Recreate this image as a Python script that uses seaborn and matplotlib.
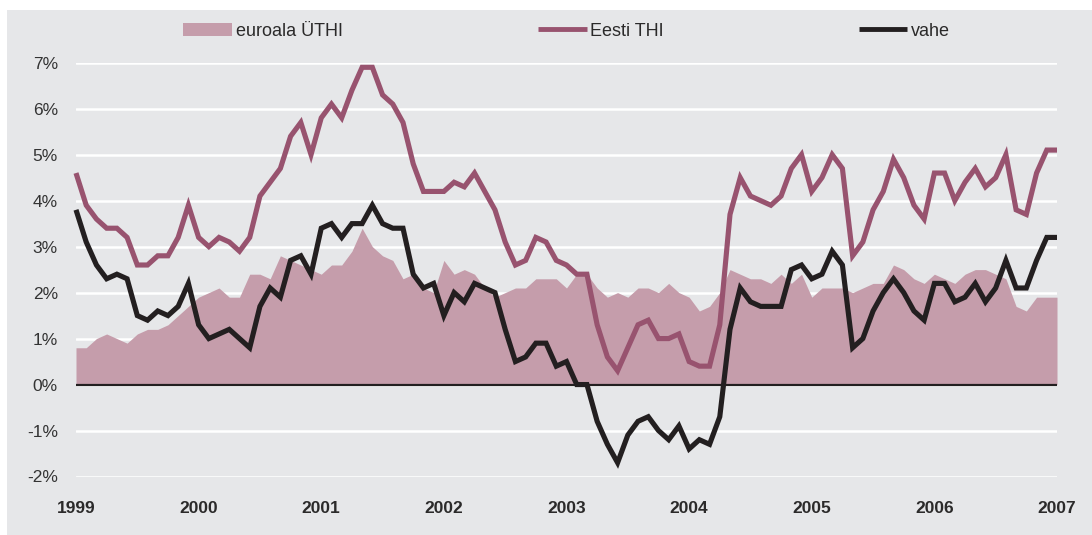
import numpy as np
import pandas as pd
import matplotlib
matplotlib.use("Agg")
import matplotlib.pyplot as plt
import seaborn as sns
from matplotlib.patches import Rectangle, Patch
from matplotlib.lines import Line2D

# ---- data (monthly, Jan 1999 .. Jan 2007) ----
eesti_thi = [
    4.6, 3.9, 3.6, 3.4, 3.4, 3.2, 2.6, 2.6, 2.8, 2.8, 3.2, 3.9,   # 1999
    3.2, 3.0, 3.2, 3.1, 2.9, 3.2, 4.1, 4.4, 4.7, 5.4, 5.7, 5.0,   # 2000
    5.8, 6.1, 5.8, 6.4, 6.9, 6.9, 6.3, 6.1, 5.7, 4.8, 4.2, 4.2,   # 2001
    4.2, 4.4, 4.3, 4.6, 4.2, 3.8, 3.1, 2.6, 2.7, 3.2, 3.1, 2.7,   # 2002
    2.6, 2.4, 2.4, 1.3, 0.6, 0.3, 0.8, 1.3, 1.4, 1.0, 1.0, 1.1,   # 2003
    0.5, 0.4, 0.4, 1.3, 3.7, 4.5, 4.1, 4.0, 3.9, 4.1, 4.7, 5.0,   # 2004
    4.2, 4.5, 5.0, 4.7, 2.8, 3.1, 3.8, 4.2, 4.9, 4.5, 3.9, 3.6,   # 2005
    4.6, 4.6, 4.0, 4.4, 4.7, 4.3, 4.5, 5.0, 3.8, 3.7, 4.6, 5.1,   # 2006
    5.1,                                                          # 2007
]
vahe = [
    3.8, 3.1, 2.6, 2.3, 2.4, 2.3, 1.5, 1.4, 1.6, 1.5, 1.7, 2.2,
    1.3, 1.0, 1.1, 1.2, 1.0, 0.8, 1.7, 2.1, 1.9, 2.7, 2.8, 2.4,
    3.4, 3.5, 3.2, 3.5, 3.5, 3.9, 3.5, 3.4, 3.4, 2.4, 2.1, 2.2,
    1.5, 2.0, 1.8, 2.2, 2.1, 2.0, 1.2, 0.5, 0.6, 0.9, 0.9, 0.4,
    0.5, 0.0, 0.0, -0.8, -1.3, -1.7, -1.1, -0.8, -0.7, -1.0, -1.2, -0.9,
    -1.4, -1.2, -1.3, -0.7, 1.2, 2.1, 1.8, 1.7, 1.7, 1.7, 2.5, 2.6,
    2.3, 2.4, 2.9, 2.6, 0.8, 1.0, 1.6, 2.0, 2.3, 2.0, 1.6, 1.4,
    2.2, 2.2, 1.8, 1.9, 2.2, 1.8, 2.1, 2.7, 2.1, 2.1, 2.7, 3.2,
    3.2,
]
euroala_uthi = [
    0.8, 0.8, 1.0, 1.1, 1.0, 0.9, 1.1, 1.2, 1.2, 1.3, 1.5, 1.7,
    1.9, 2.0, 2.1, 1.9, 1.9, 2.4, 2.4, 2.3, 2.8, 2.7, 2.6, 2.5,
    2.4, 2.6, 2.6, 2.9, 3.4, 3.0, 2.8, 2.7, 2.3, 2.4, 2.1, 2.0,
    2.7, 2.4, 2.5, 2.4, 2.1, 1.9, 2.0, 2.1, 2.1, 2.3, 2.3, 2.3,
    2.1, 2.4, 2.4, 2.1, 1.9, 2.0, 1.9, 2.1, 2.1, 2.0, 2.2, 2.0,
    1.9, 1.6, 1.7, 2.0, 2.5, 2.4, 2.3, 2.3, 2.2, 2.4, 2.2, 2.4,
    1.9, 2.1, 2.1, 2.1, 2.0, 2.1, 2.2, 2.2, 2.6, 2.5, 2.3, 2.2,
    2.4, 2.3, 2.2, 2.4, 2.5, 2.5, 2.4, 2.3, 1.7, 1.6, 1.9, 1.9,
    1.9,
]
start_year = 1999
year_ticks = [1999, 2000, 2001, 2002, 2003, 2004, 2005, 2006, 2007]
y_ticks = [-2, -1, 0, 1, 2, 3, 4, 5, 6, 7]
labels = ["euroala ÜTHI", "Eesti THI", "vahe"]

n = len(eesti_thi)
df = pd.DataFrame({
    "t": [start_year + i / 12 for i in range(n)],
    "eesti": eesti_thi,
    "vahe": vahe,
    "euro": euroala_uthi,
})

# ---- style ----
BG = "#e6e7e9"
AREA = "#c59dab"
PINK = "#98536f"
BLACK = "#231f20"
TXT = "#2b2a2a"

sns.set_style("white")
plt.rcParams["font.family"] = ["Liberation Sans", "DejaVu Sans"]

W, H = 1092, 535
fig = plt.figure(figsize=(W / 100, H / 100), dpi=100)
fig.patch.set_facecolor("white")
fig.patches.append(Rectangle((7 / W, 0), 1 - 7 / W, 1 - 10 / H,
                             transform=fig.transFigure, facecolor=BG,
                             edgecolor="none", zorder=-10))

left, right, top, bottom = 76, 1057, 62.7, 476.5
ax = fig.add_axes([left / W, 1 - bottom / H, (right - left) / W, (bottom - top) / H])
ax.set_facecolor(BG)

ax.fill_between(df["t"], 0, df["euro"], color=AREA, lw=0, zorder=2)
ax.axhline(0, color=BLACK, lw=1.6, zorder=3)
sns.lineplot(data=df, x="t", y="eesti", ax=ax, color=PINK, lw=3.7,
             legend=False, zorder=4)
sns.lineplot(data=df, x="t", y="vahe", ax=ax, color=BLACK, lw=3.7,
             legend=False, zorder=5)

ax.set_xlim(year_ticks[0], year_ticks[-1])
ax.set_ylim(-2, 7)
ax.set_yticks(y_ticks)
ax.set_yticklabels([f"{v}%" for v in y_ticks], fontsize=12.5, color="#333333")
ax.set_xticks(year_ticks)
ax.set_xticklabels([str(y) for y in year_ticks], fontsize=12.5,
                   fontweight="bold", color=TXT)
ax.tick_params(axis="both", length=0)
ax.tick_params(axis="y", pad=13)
ax.tick_params(axis="x", pad=17.5)
ax.yaxis.grid(True, color="white", lw=1.8)
ax.xaxis.grid(False)
ax.set_axisbelow(True)
ax.set_xlabel("")
ax.set_ylabel("")
for s in ax.spines.values():
    s.set_visible(False)
for line in ax.lines:
    line.set_clip_on(False)
    line.set_solid_joinstyle("miter")
    line.set_solid_capstyle("butt")

handles = [
    Patch(facecolor=AREA, edgecolor="none"),
    Line2D([0], [0], color=PINK, lw=3.5, solid_capstyle="butt"),
    Line2D([0], [0], color=BLACK, lw=3.5, solid_capstyle="butt"),
]
leg = fig.legend(handles, labels, loc="center", bbox_to_anchor=(0.519, 0.942),
                 ncol=3, frameon=False, fontsize=13, handlelength=2.7,
                 handleheight=0.75, handletextpad=0.2, columnspacing=10.8)
for t in leg.get_texts():
    t.set_color(TXT)

fig.savefig("out.png", dpi=100, facecolor=fig.get_facecolor())
